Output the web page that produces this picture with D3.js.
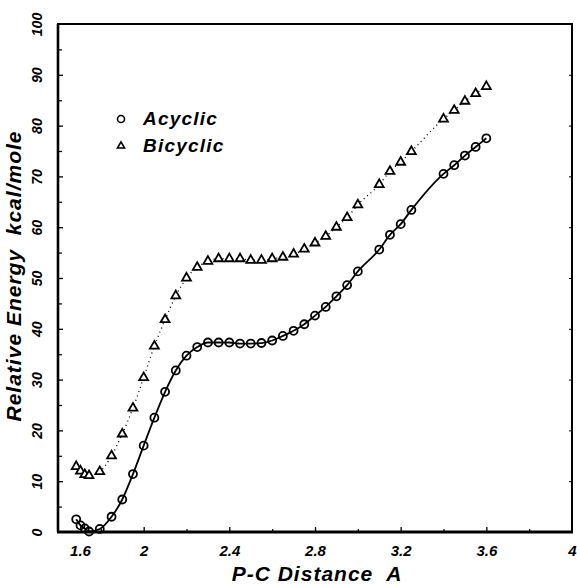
<!DOCTYPE html>
<html>
<head>
<meta charset="utf-8">
<script src="https://cdn.jsdelivr.net/npm/d3@7"></script>
<style>
  html, body { margin: 0; padding: 0; background: #fff; }
  svg { display: block; }
  text { font-family: "Liberation Sans", Arial, Helvetica, sans-serif; font-weight: bold; font-style: italic; fill: #000; }
</style>
</head>
<body>
<svg id="chart" width="577" height="584"></svg>
<script>
// ---- data ----
const distances = [1.685,1.705,1.725,1.745,1.795,1.85,1.9,1.95,2.0,2.05,2.1,2.15,2.2,2.25,2.3,2.35,2.4,2.45,2.5,2.55,2.6,2.65,2.7,2.75,2.8,2.85,2.9,2.95,3.0,3.1,3.15,3.2,3.25,3.4,3.45,3.5,3.55,3.6];
const acyclic = [2.5,1.3,0.7,0.1,0.6,3.0,6.4,11.4,17.0,22.5,27.6,31.8,34.7,36.4,37.3,37.3,37.3,37.1,37.1,37.2,37.7,38.6,39.6,40.9,42.6,44.3,46.4,48.6,51.3,55.6,58.5,60.6,63.4,70.5,72.2,74.1,75.8,77.5];
const bicyclic = [12.9,12.0,11.3,11.1,11.9,15.0,19.3,24.4,30.4,36.6,41.8,46.5,50.0,52.1,53.3,53.8,53.8,53.8,53.5,53.5,53.8,54.1,54.7,55.7,56.9,58.2,60.0,61.9,64.4,68.4,71.0,72.8,74.9,81.3,83.0,84.8,86.3,87.7];
const xTickValues = [1.6,2,2.4,2.8,3.2,3.6,4];
const xMinorTicks = [1.8,2.2,2.6,3.0,3.4,3.8];
const yTickValues = [0,10,20,30,40,50,60,70,80,90,100];
const yMinorTicks = [5,15,25,35,45,55,65,75,85,95];
const seriesNames = ["Acyclic","Bicyclic"];
const xTitle = "P-C Distance  A";
const yTitle = "Relative Energy  kcal/mole";

// ---- layout ----
const L = 58, R = 572, T = 24, B = 532;
const svg = d3.select("#chart");
const x = d3.scaleLinear().domain([1.6, 4]).range([L, R]);
const y = d3.scaleLinear().domain([0, 100]).range([B, T]);

// frame
svg.append("rect").attr("x", L).attr("y", T).attr("width", R - L).attr("height", B - T)
  .attr("fill", "none").attr("stroke", "#000").attr("stroke-width", 2);
svg.append("line").attr("x1", L).attr("x2", L).attr("y1", T).attr("y2", B).attr("stroke", "#000").attr("stroke-width", 2.6);
svg.append("line").attr("x1", L - 1).attr("x2", R + 1).attr("y1", B).attr("y2", B).attr("stroke", "#000").attr("stroke-width", 3);

// x axis
const gx = svg.append("g").attr("transform", `translate(0,${B})`)
  .call(d3.axisBottom(x).tickValues(xTickValues).tickSize(-5).tickPadding(13).tickFormat(d3.format("")));
gx.select(".domain").remove();
gx.selectAll("line").attr("stroke-width", 1.3);
gx.selectAll("text").style("font-size", "15px").attr("dy", "0.71em");
gx.selectAll(".tick").filter(d => d === 1.6).select("text").attr("dx", 22);
gx.selectAll(".tick").filter(d => d === 1.6 || d === 4).select("line").remove();
svg.append("g").attr("transform", `translate(0,${B})`)
  .call(d3.axisBottom(x).tickValues(xMinorTicks).tickSize(-3).tickFormat(""))
  .call(g => g.select(".domain").remove())
  .selectAll("line").attr("stroke-width", 1.2);

// y axis
const gy = svg.append("g").attr("transform", `translate(${L},0)`)
  .call(d3.axisLeft(y).tickValues(yTickValues).tickSize(-5).tickPadding(0).tickFormat(d3.format("d")));
gy.select(".domain").remove();
gy.selectAll("line").attr("stroke-width", 1.3);
gy.selectAll(".tick").filter(d => d === 0 || d === 100).select("line").remove();
gy.selectAll("text")
  .attr("x", 0).attr("dy", 0)
  .attr("text-anchor", "middle")
  .attr("transform", "translate(-16,0) rotate(-90)")
  .style("font-size", "14px");
svg.append("g").attr("transform", `translate(${L},0)`)
  .call(d3.axisLeft(y).tickValues(yMinorTicks).tickSize(-4).tickFormat(""))
  .call(g => g.select(".domain").remove())
  .selectAll("line").attr("stroke-width", 1.2);
// right side ticks
svg.append("g").attr("transform", `translate(${R},0)`)
  .call(d3.axisRight(y).tickValues(yTickValues.slice(1, -1)).tickSize(-3).tickFormat(""))
  .call(g => g.select(".domain").remove())
  .selectAll("line").attr("stroke-width", 1);

// titles
svg.append("text").attr("x", (L + R) / 2 + 2).attr("y", 581).attr("text-anchor", "middle")
  .style("font-size", "21px").style("letter-spacing", "1px").style("white-space", "pre").text(xTitle);
svg.append("text").attr("transform", "translate(21,276) rotate(-90)").attr("text-anchor", "middle")
  .style("font-size", "21px").style("letter-spacing", "1px").style("white-space", "pre").text(yTitle);

// series
const ptsA = distances.map((d, i) => [d, acyclic[i]]);
const ptsB = distances.map((d, i) => [d, bicyclic[i]]);
const line = d3.line().x(d => x(d[0])).y(d => y(d[1])).curve(d3.curveMonotoneX);

svg.append("path").attr("d", line(ptsB)).attr("fill", "none").attr("stroke", "#000")
  .attr("stroke-width", 1.3).attr("stroke-dasharray", "1,3.5");
svg.append("path").attr("d", line(ptsA)).attr("fill", "none").attr("stroke", "#000")
  .attr("stroke-width", 1.8);

const tri = d3.symbol().type(d3.symbolTriangle).size(34);
svg.append("g").selectAll("path").data(ptsB).join("path")
  .attr("d", tri).attr("transform", d => `translate(${x(d[0])},${y(d[1])})`)
  .attr("fill", "#fff").attr("stroke", "#000").attr("stroke-width", 1.8);
svg.append("g").selectAll("circle").data(ptsA).join("circle")
  .attr("cx", d => x(d[0])).attr("cy", d => y(d[1])).attr("r", 4)
  .attr("fill", "none").attr("stroke", "#000").attr("stroke-width", 1.8);

// legend
const lg = svg.append("g");
lg.append("circle").attr("cx", 121).attr("cy", 119).attr("r", 3.5)
  .attr("fill", "none").attr("stroke", "#000").attr("stroke-width", 1.6);
lg.append("path").attr("d", d3.symbol().type(d3.symbolTriangle).size(22)())
  .attr("transform", "translate(121,146)").attr("fill", "#fff").attr("stroke", "#000").attr("stroke-width", 1.6);
lg.append("text").attr("x", 143).attr("y", 125).style("font-size", "19px").style("letter-spacing", "1.2px").text(seriesNames[0]);
lg.append("text").attr("x", 143).attr("y", 152).style("font-size", "19px").style("letter-spacing", "1.2px").text(seriesNames[1]);
</script>
</body>
</html>
